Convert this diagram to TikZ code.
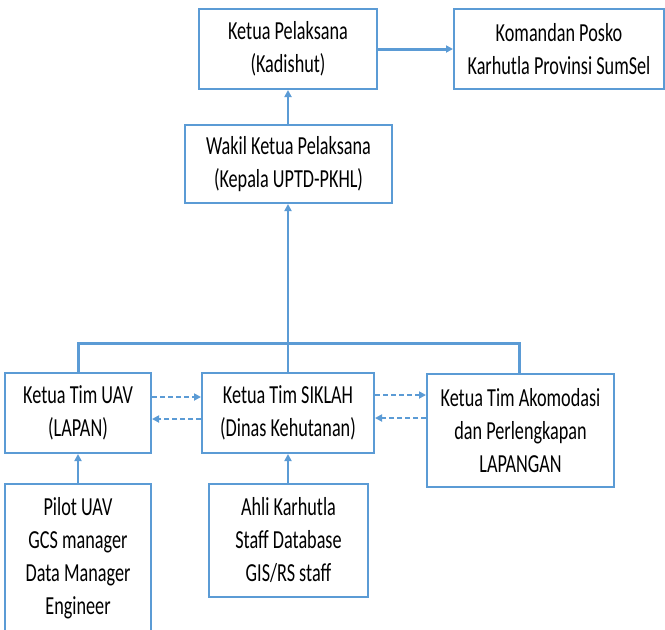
\documentclass[tikz,border=0pt]{standalone}
\usepackage{fontspec}
\setmainfont{Carlito}[FakeStretch=0.7]
\usetikzlibrary{arrows.meta,calc}
\definecolor{bord}{HTML}{5B9BD5}
\begin{document}
\begin{tikzpicture}[x=1pt,y=-1pt,
  box/.style={draw=bord,line width=2pt,fill=white,inner sep=0pt,align=center,
    font=\fontsize{26}{33}\selectfont,text=black},
  conn/.style={draw=bord,line width=2pt,-{Triangle[length=7pt,width=7pt]}},
  thick conn/.style={draw=bord,line width=3pt,-{Triangle[length=7pt,width=7pt]}},
  dconn/.style={draw=bord,line width=2pt,dash pattern=on 5pt off 3pt,-{Triangle[length=7pt,width=7pt]}},
  bus/.style={draw=bord,line width=3pt}]
\useasboundingbox (0,0) rectangle (665,630);
\clip (0,0) rectangle (665,630);
\fill[white] (0,0) rectangle (665,630);
\node[box,minimum width=178pt,minimum height=80pt] (kp) at (288,49) {Ketua Pelaksana\\(Kadishut)};
\node[box,minimum width=210pt,minimum height=80pt] (kom) at (559,49) {Komandan Posko\\Karhutla Provinsi SumSel};
\node[box,minimum width=207pt,minimum height=78pt] (wakil) at (288.5,164) {Wakil Ketua Pelaksana\\(Kepala UPTD-PKHL)};
\node[box,minimum width=146pt,minimum height=80pt] (uav) at (78,413) {Ketua Tim UAV\\(LAPAN)};
\node[box,minimum width=172pt,minimum height=80pt] (siklah) at (288,413) {Ketua Tim SIKLAH\\(Dinas Kehutanan)};
\node[box,minimum width=187pt,minimum height=113pt] (akom) at (520.5,430.5) {Ketua Tim Akomodasi\\dan Perlengkapan\\LAPANGAN};
\node[box,minimum width=146pt,minimum height=148pt] (pilot) at (78,558) {Pilot UAV\\GCS manager\\Data Manager\\Engineer};
\node[box,minimum width=159pt,minimum height=113pt] (ahli) at (288.5,540.5) {Ahli Karhutla\\Staff Database\\GIS/RS staff};
\coordinate (busL) at (78,343);
\coordinate (busR) at (519,343);
\draw[thick conn] (kp.east) -- (kom.west);
\draw[conn] (wakil.north -| kp.south) -- (kp.south);
\draw[bus] (uav.north) -- (busL) -- (busR) -- (busR |- akom.north);
\draw[conn] (siklah.north) -- (wakil.south -| siklah.north);
\draw[dconn] ([yshift=16pt]uav.east) -- ([yshift=16pt]siklah.west);
\draw[dconn] ([yshift=-6pt]siklah.west) -- ([yshift=-6pt]uav.east);
\draw[dconn] ([yshift=18pt]siklah.east) -- ([yshift=18pt]siklah.east -| akom.west);
\draw[dconn] ([yshift=-5pt]siklah.east -| akom.west) -- ([yshift=-5pt]siklah.east);
\draw[conn] (pilot.north) -- (uav.south);
\draw[conn] (ahli.north -| siklah.south) -- (siklah.south);
\end{tikzpicture}
\end{document}
